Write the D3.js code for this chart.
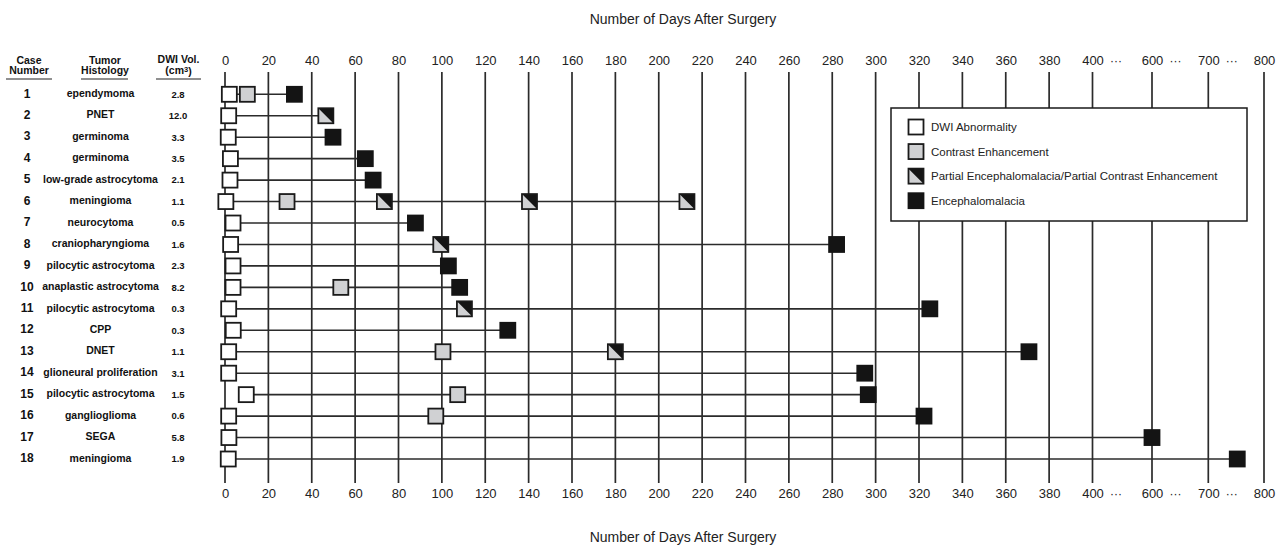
<!DOCTYPE html>
<html>
<head>
<meta charset="utf-8">
<script src="https://cdn.jsdelivr.net/npm/d3@7"></script>
<style>
  body { margin: 0; background: #fff; }
  svg { display: block; font-family: "Liberation Sans", Arial, Helvetica, sans-serif; }
</style>
</head>
<body>
<svg id="chart" width="1285" height="546"></svg>
<script>
// ---- data ----
const cases = [1,2,3,4,5,6,7,8,9,10,11,12,13,14,15,16,17,18];
const histology = ["ependymoma","PNET","germinoma","germinoma","low-grade astrocytoma","meningioma",
  "neurocytoma","craniopharyngioma","pilocytic astrocytoma","anaplastic astrocytoma","pilocytic astrocytoma",
  "CPP","DNET","glioneural proliferation","pilocytic astrocytoma","ganglioglioma","SEGA","meningioma"];
const dwiVolume = ["2.8","12.0","3.3","3.5","2.1","1.1","0.5","1.6","2.3","8.2","0.3","0.3","1.1","3.1","1.5","0.6","5.8","1.9"];
// day of DWI abnormality per case
const dwiDay = [2,1.7,1.5,2.5,2.3,0.4,3.7,2.6,3.7,3.7,1.7,3.8,1.7,1.7,9.8,1.7,1.8,1.5];
// day of contrast enhancement per case (null = none)
const contrastDay = [10.3,null,null,null,null,28.6,null,null,null,53.4,null,null,100.5,null,107.3,97.2,null,null];
// days of partial encephalomalacia / partial contrast enhancement per case
const partialDays = [[],[46.5],[],[],[],[73.5,140.4,213],[],[99.5],[],[],[110.4],[],[180],[],[],[],[],[]];
// day of encephalomalacia per case (null = none)
const encephalomalaciaDay = [32,null,49.8,64.7,68.3,null,87.8,282,103,108.2,325,130.4,370.7,295,296.6,322.3,600,752];
const tickValues = [0,20,40,60,80,100,120,140,160,180,200,220,240,260,280,300,320,340,360,380,400,600,700,800];
const brokenTicks = [400,600,700];
const legendLabels = ["DWI Abnormality","Contrast Enhancement","Partial Encephalomalacia/Partial Contrast Enhancement","Encephalomalacia"];
const legendTypes = ["dwi","contrast","partial","enceph"];
const axisTitle = "Number of Days After Surgery";

// ---- scales ----
const x = d3.scaleLinear().domain([0,400,600,700,800]).range([225,1092.5,1152,1208.3,1264]);
const y = d3.scalePoint().domain(cases).range([94.3,459]);

const svg = d3.select("#chart");
const INK = "#1a1a1a", LINE = "#2b2b2b", GREY = "#d0d1d3";
const S = 15; // marker size

// titles
svg.append("text").attr("x",683).attr("y",19).attr("dy","0.35em").attr("text-anchor","middle")
  .attr("font-size",14).attr("fill","#222").text(axisTitle);
svg.append("text").attr("x",683).attr("y",537).attr("dy","0.35em").attr("text-anchor","middle")
  .attr("font-size",14).attr("fill","#222").text(axisTitle);

// axis labels (top and bottom)
function labelAxis(yPos) {
  const ax = d3.axisTop(x).tickValues(tickValues).tickSize(0).tickPadding(0).tickFormat(d3.format("d"));
  const gg = svg.append("g").attr("transform",`translate(0,${yPos})`).call(ax);
  gg.select(".domain").remove();
  gg.selectAll("text").attr("font-size",13).attr("fill","#222").attr("font-family","Liberation Sans, Arial, sans-serif")
    .attr("dy","0.35em").attr("y",0);
  gg.selectAll(".tick").filter(d => brokenTicks.includes(d)).append("text")
    .attr("x",23).attr("y",0).attr("dy","0.38em").attr("font-size",12).attr("fill","#222")
    .attr("font-family","Liberation Sans, Arial, sans-serif").attr("text-anchor","middle").text("···");
}
labelAxis(60);
labelAxis(493);

// vertical grid lines
svg.append("g").selectAll("line").data(tickValues).join("line")
  .attr("x1",d=>x(d)).attr("x2",d=>x(d)).attr("y1",72).attr("y2",483)
  .attr("stroke",LINE).attr("stroke-width",1.7);

// row lines
const rows = cases.map((c,i) => {
  const days = [dwiDay[i]];
  if (contrastDay[i] != null) days.push(contrastDay[i]);
  partialDays[i].forEach(d => days.push(d));
  if (encephalomalaciaDay[i] != null) days.push(encephalomalaciaDay[i]);
  return {c, i, min: d3.min(days), max: d3.max(days)};
});
svg.append("g").selectAll("line").data(rows).join("line")
  .attr("x1",d=>x(d.min)).attr("x2",d=>x(d.max)).attr("y1",d=>y(d.c)).attr("y2",d=>y(d.c))
  .attr("stroke",LINE).attr("stroke-width",1.6);

// left header
const hdr = svg.append("g").attr("font-weight","bold").attr("fill","#111").attr("text-anchor","middle").attr("font-size",10.5);
[["Case",29,60.7],["Number",29,70.7],["Tumor",105,60.7],["Histology",105,70.7],["DWI Vol.",178.5,59.5]].forEach(t=>{
  hdr.append("text").attr("x",t[1]).attr("y",t[2]).attr("dy","0.35em").text(t[0]);
});
const cm = hdr.append("text").attr("x",178.5).attr("y",70.5).attr("dy","0.35em");
cm.append("tspan").text("(cm");
cm.append("tspan").attr("font-size",7.5).attr("dy","-0.35em").text("3");
cm.append("tspan").attr("dy","0.3em").text(")");
[[6,52],[81,128],[156,201]].forEach(u=>{
  svg.append("line").attr("x1",u[0]).attr("x2",u[1]).attr("y1",79).attr("y2",79).attr("stroke","#222").attr("stroke-width",1.2);
});

// left columns
const lc = svg.append("g").attr("font-weight","bold").attr("fill","#111").attr("text-anchor","middle");
lc.selectAll("text.case").data(cases).join("text").attr("class","case")
  .attr("x",27).attr("y",d=>y(d)-1).attr("dy","0.35em").attr("font-size",12).text(d=>d);
lc.selectAll("text.hist").data(cases).join("text").attr("class","hist")
  .attr("x",100.5).attr("y",d=>y(d)-1).attr("dy","0.35em").attr("font-size",10.5).text((d,i)=>histology[i]);
lc.selectAll("text.vol").data(cases).join("text").attr("class","vol")
  .attr("x",178).attr("y",d=>y(d)).attr("dy","0.35em").attr("font-size",9.5).text((d,i)=>dwiVolume[i]);

// marker drawing
function marker(g, type, cx, cy) {
  const x0 = cx - S/2, y0 = cy - S/2;
  if (type === "dwi") {
    g.append("rect").attr("x",x0).attr("y",y0).attr("width",S).attr("height",S)
      .attr("fill","#fff").attr("stroke",INK).attr("stroke-width",1.8);
  } else if (type === "contrast") {
    g.append("rect").attr("x",x0).attr("y",y0).attr("width",S).attr("height",S)
      .attr("fill",GREY).attr("stroke",INK).attr("stroke-width",1.8);
  } else if (type === "enceph") {
    g.append("rect").attr("x",x0-0.9).attr("y",y0-0.9).attr("width",S+1.8).attr("height",S+1.8)
      .attr("fill","#141414");
  } else {
    g.append("rect").attr("x",x0).attr("y",y0).attr("width",S).attr("height",S).attr("fill",GREY);
    g.append("path").attr("d",`M${x0},${y0}L${x0+S},${y0}L${x0+S},${y0+S}Z`).attr("fill","#141414");
    g.append("rect").attr("x",x0).attr("y",y0).attr("width",S).attr("height",S)
      .attr("fill","none").attr("stroke",INK).attr("stroke-width",1.8);
  }
}

// legend
const lg = svg.append("g");
lg.append("rect").attr("x",891).attr("y",108).attr("width",356).attr("height",113)
  .attr("fill","#fff").attr("stroke",INK).attr("stroke-width",1.5);
const legY = d3.scalePoint().domain(legendTypes).range([127,200.7]);
legendTypes.forEach((t,i)=>{
  marker(lg, t, 916, legY(t));
  lg.append("text").attr("x",931).attr("y",legY(t)).attr("dy","0.35em").attr("font-size",11.5)
    .attr("fill","#222").text(legendLabels[i]);
});

// data markers
const mg = svg.append("g");
cases.forEach((c,i)=>{
  const cy = y(c);
  marker(mg, "dwi", x(dwiDay[i]), cy);
  if (contrastDay[i] != null) marker(mg, "contrast", x(contrastDay[i]), cy);
  partialDays[i].forEach(d => marker(mg, "partial", x(d), cy));
  if (encephalomalaciaDay[i] != null) marker(mg, "enceph", x(encephalomalaciaDay[i]), cy);
});
</script>
</body>
</html>
